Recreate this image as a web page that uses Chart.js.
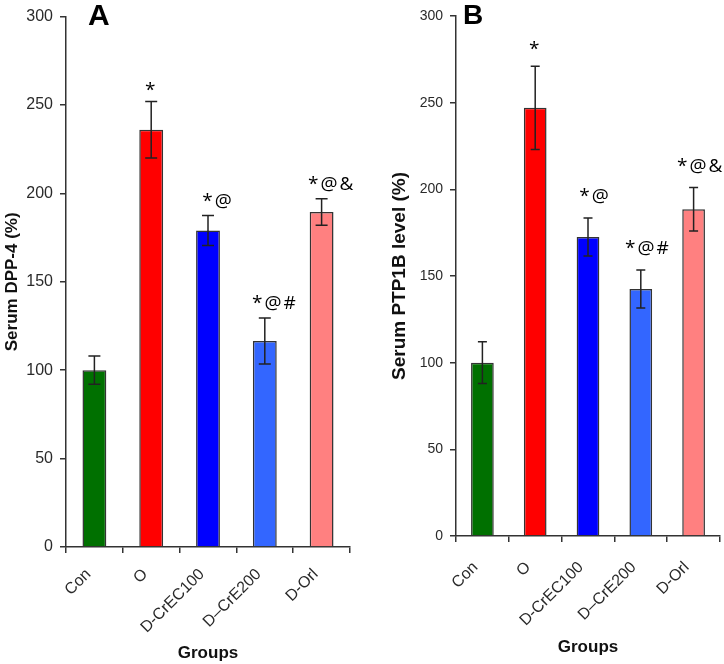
<!DOCTYPE html>
<html>
<head>
<meta charset="utf-8">
<script src="https://cdn.jsdelivr.net/npm/chart.js@4.4.1/dist/chart.umd.min.js"></script>
<style>
  body { margin: 0; background: #fff; width: 724px; height: 664px; position: relative; overflow: hidden; }
  canvas { position: absolute; top: 0; }
  #chartA { left: 0; }
  #chartB { left: 362px; }
</style>
</head>
<body>
<canvas id="chartA" width="400" height="664"></canvas>
<canvas id="chartB" width="362" height="664"></canvas>
<script>
// groups on the x axis
const groups = ['Con', 'O', 'D-CrEC100', 'D\u2013CrE200', 'D-Orl'];
const yTicks = [0, 50, 100, 150, 200, 250, 300];

// panel A: serum DPP-4 (%)
const dppMeans = [100, 236, 179, 116.5, 189.5];
const dppErrors = [8, 16, 8.5, 13, 7.5];
const dppMarks = ['', '*', '*@', '*@#', '*@&'];

// panel B: serum PTP1B level (%)
const ptpMeans = [100, 247, 172.5, 142.5, 188.5];
const ptpErrors = [12, 24, 11, 11, 12.5];
const ptpMarks = ['', '*', '*@', '*@#', '*@&'];

const barColors = ['#007000', '#ff0000', '#0000ff', '#3366ff', '#ff8080'];
const ink = '#222';
const fontFamily = '"Liberation Sans", Arial, sans-serif';

// error bars + significance marks + panel letter
const extrasPlugin = {
    id: 'extras',
    afterDatasetsDraw(chart, args, opts) {
        const ctx = chart.ctx;
        const yScale = chart.scales.y;
        const meta = chart.getDatasetMeta(0);
        const means = chart.data.datasets[0].data;
        ctx.save();
        ctx.strokeStyle = ink;
        ctx.lineWidth = 1.5;
        meta.data.forEach((bar, i) => {
            const top = yScale.getPixelForValue(means[i] + opts.errors[i]);
            const bot = yScale.getPixelForValue(means[i] - opts.errors[i]);
            const half = opts.capWidth / 2;
            ctx.beginPath();
            ctx.moveTo(bar.x, top); ctx.lineTo(bar.x, bot);
            ctx.moveTo(bar.x - half, top); ctx.lineTo(bar.x + half, top);
            ctx.moveTo(bar.x - half, bot); ctx.lineTo(bar.x + half, bot);
            ctx.stroke();

            const mark = opts.marks[i];
            if (mark) {
                ctx.fillStyle = '#000';
                ctx.font = opts.markFont;
                ctx.letterSpacing = '2px';
                ctx.textAlign = 'center';
                ctx.textBaseline = 'alphabetic';
                const single = mark.length === 1;
                const shift = single ? 0 : opts.markShift;
                const gap = single ? opts.starGap : opts.markGap;
                ctx.fillText(mark, bar.x + shift, top - gap);
            }
        });
        ctx.letterSpacing = '0px';
        ctx.fillStyle = '#000';
        ctx.font = 'bold ' + opts.letterSize + 'px ' + fontFamily;
        ctx.textAlign = 'left';
        ctx.textBaseline = 'top';
        ctx.fillText(opts.letter, opts.letterX, opts.letterY);
        ctx.restore();
    }
};

function makeChart(id, means, errors, marks, cfg) {
    new Chart(document.getElementById(id), {
        type: 'bar',
        data: {
            labels: groups,
            datasets: [{
                data: means,
                backgroundColor: barColors,
                borderColor: '#333',
                borderWidth: 1.5,
                barPercentage: cfg.barPct,
                categoryPercentage: 1
            }]
        },
        options: {
            responsive: false,
            animation: false,
            layout: { padding: cfg.padding },
            plugins: {
                legend: { display: false },
                tooltip: { enabled: false },
                extras: {
                    errors: errors,
                    marks: marks,
                    capWidth: cfg.capWidth,
                    markGap: cfg.markGap,
                    starGap: cfg.starGap,
                    markShift: cfg.markShift,
                    markFont: '19px "Open Sans", sans-serif',
                    letter: cfg.letter,
                    letterSize: cfg.letterSize,
                    letterX: cfg.letterX,
                    letterY: 2
                }
            },
            scales: {
                x: {
                    afterFit: s => { s.height = cfg.xHeight; },
                    grid: { offset: true, drawOnChartArea: false, color: '#333', lineWidth: 1.5, tickLength: 6 },
                    border: { color: '#333', width: 1.5 },
                    ticks: {
                        maxRotation: 45, minRotation: 45, padding: cfg.xTickPad,
                        labelOffset: cfg.xLabelShift,
                        color: '#2a2a2a',
                        font: { family: fontFamily, size: 16 }
                    },
                    title: {
                        display: true, text: 'Groups', color: '#111',
                        font: { family: fontFamily, size: 17, weight: 'bold' },
                        padding: { top: 0, bottom: cfg.groupsPad }
                    }
                },
                y: {
                    min: 0, max: 300,
                    afterFit: s => { s.width = cfg.yWidth; },
                    afterBuildTicks: s => { s.ticks = yTicks.map(v => ({ value: v })); },
                    grid: { drawOnChartArea: false, color: '#333', lineWidth: 1.5, tickLength: 6 },
                    border: { color: '#333', width: 1.5 },
                    ticks: {
                        padding: cfg.tickPad,
                        color: '#2a2a2a',
                        font: { family: fontFamily, size: cfg.yTickSize }
                    },
                    title: {
                        display: true, text: cfg.yTitle, color: '#111',
                        font: { family: fontFamily, size: cfg.yTitleSize, weight: 'bold' },
                        padding: { top: 2, bottom: 0 }
                    }
                }
            }
        },
        plugins: [extrasPlugin]
    });
}

makeChart('chartA', dppMeans, dppErrors, dppMarks, {
    padding: { left: 0, top: 14, right: 50, bottom: 0 },
    yWidth: 66, xHeight: 117, barPct: 0.42, capWidth: 12,
    markGap: 9, starGap: 5, markShift: 10, tickPad: 7, yTickSize: 16,
    xTickPad: 12, xLabelShift: -6, groupsPad: 0, yTitleSize: 17,
    yTitle: 'Serum DPP-4 (%)', letter: 'A', letterSize: 30, letterX: 88
});

makeChart('chartB', ptpMeans, ptpErrors, ptpMarks, {
    padding: { left: 24, top: 16, right: 4, bottom: 0 },
    yWidth: 70, xHeight: 128, barPct: 0.43, capWidth: 9,
    markGap: 16, starGap: 11, markShift: 7, tickPad: 7, yTickSize: 14,
    xTickPad: 16, xLabelShift: -7, groupsPad: 6, yTitleSize: 19,
    yTitle: 'Serum PTP1B level (%)', letter: 'B', letterSize: 28, letterX: 101
});
</script>
</body>
</html>
